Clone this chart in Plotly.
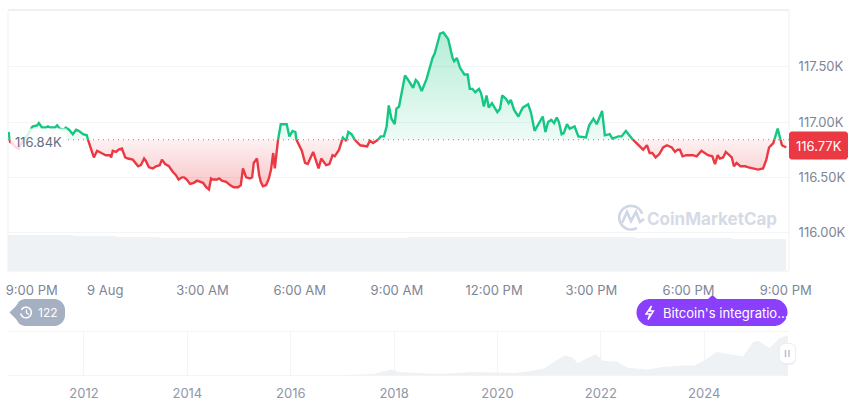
import numpy as np
import plotly.graph_objects as go

# minutes since 9:00 PM, price in USD
minutes = [1,4,7,15,20,26,35,44,46,54,57,63,70,74,78,87,91,96,104,107,113,120,126,131,139,146,148,152,155,159,165,172,181,189,191,194,200,205,211,217,222,231,237,241,246,252,255,261,268,274,281,285,291,298,305,311,316,322,326,331,337,344,350,355,361,367,372,376,379,387,391,396,404,411,418,426,429,431,435,441,448,452,455,461,465,468,472,478,483,487,491,494,500,505,511,516,521,527,532,534,544,550,555,565,575,580,589,595,601,605,613,620,626,630,636,642,652,665,670,676,685,690,696,701,705,710,716,719,724,735,741,750,755,759,766,775,786,790,800,806,815,823,826,831,837,845,851,855,860,865,872,876,881,886,890,896,906,911,915,922,927,931,937,945,953,963,968,975,990,995,1000,1006,1011,1016,1020,1025,1029,1035,1040,1049,1056,1070,1076,1084,1090,1100,1105,1114,1119,1130,1136,1144,1157,1167,1176,1183,1188,1193,1199,1206,1213,1220,1229,1235,1240,1244,1249,1256,1268,1275,1284,1296,1304,1309,1314,1318,1324,1329,1340,1344,1349,1356,1365,1371,1380,1389,1398,1404,1409,1417,1425,1433,1441]
prices = [116910,116820,116810,116770,116760,116820,116870,116950,116960,116970,116990,116950,116950,116960,116950,116950,116970,116940,116930,116950,116930,116890,116930,116920,116890,116880,116840,116780,116730,116680,116740,116720,116700,116700,116680,116740,116730,116750,116760,116680,116670,116660,116620,116600,116610,116670,116650,116590,116580,116600,116610,116660,116620,116600,116550,116520,116480,116500,116500,116480,116440,116450,116470,116460,116450,116410,116390,116490,116480,116480,116490,116470,116460,116430,116410,116410,116420,116430,116580,116500,116490,116500,116630,116670,116520,116460,116420,116430,116490,116570,116720,116580,116840,116980,116980,116980,116870,116920,116910,116840,116740,116630,116620,116730,116580,116670,116610,116620,116700,116690,116750,116860,116830,116910,116890,116840,116790,116780,116830,116810,116840,116870,116870,116960,117150,117030,116980,117120,117140,117420,117380,117310,117380,117360,117280,117390,117580,117620,117800,117810,117750,117580,117550,117580,117490,117430,117430,117300,117300,117270,117300,117260,117140,117240,117130,117170,117090,117120,117240,117210,117170,117200,117110,117050,117130,117160,117090,116920,117050,116910,117000,117020,116990,117040,117000,116890,116900,116980,116940,116960,116870,116860,116970,117030,116980,117100,116880,116890,116850,116870,116870,116920,116840,116790,116750,116790,116720,116720,116680,116710,116770,116790,116770,116730,116750,116750,116690,116700,116700,116690,116740,116700,116690,116620,116700,116670,116680,116730,116680,116600,116630,116600,116600,116590,116580,116570,116580,116660,116770,116810,116940,116790,116770]
open_price = 116840

# volume, one bar per 20 minutes
vol_minutes = list(range(10, 1450, 20))
volumes = [36,36,36,36,36,36,35.5,35.5,35,35,34.5,34.5,34,34,33.5,33,33,33,33,33,33.5,33.5,33,33,33,33,33,33,33.5,33,33,33,33.5,33.5,33,33.5,33.5,34,34,34,34,34,34.5,34.5,34.5,34.5,34,34.5,34.5,34.5,34,34,34,34,34.5,34,34,34,33.5,33.5,33.5,33.5,33,33,33,33,33,32.5,32.5,32.5,32,32]

# history navigator, price in thousands
hist_years = [2010.6,2013.9,2016.0,2017.0,2017.6,2017.95,2018.1,2018.5,2018.9,2019.5,2020.0,2020.3,2020.6,2020.9,2021.1,2021.3,2021.45,2021.55,2021.8,2021.9,2022.05,2022.3,2022.45,2022.55,2022.9,2023.2,2023.6,2023.8,2024.0,2024.24,2024.45,2024.75,2024.95,2025.05,2025.27,2025.45,2025.62]
hist_prices = [0,1,0.5,1,4,17,10,7,4,10,8,7,11,20,40,58,52,35,55,62,42,40,28,21,17,24,29,28,43,68,62,56,98,100,80,108,117]

time_ticks = [44,180,360,540,720,900,1080,1260,1440]
time_labels = ["9:00 PM","9 Aug","3:00 AM","6:00 AM","9:00 AM","12:00 PM","3:00 PM","6:00 PM","9:00 PM"]
price_ticks = [116000,116500,117000,117500]
price_labels = ["116.00K","116.50K","117.00K","117.50K"]
year_ticks = [2012,2014,2016,2018,2020,2022,2024]

GREEN = "#16c784"
RED = "#ea3943"
GRID = "#f3f4f6"
W, H = 860, 401


def fx(px):
    return px / W


def fy(py):
    return 1 - py / H


def path(points, close=False):
    s = "M " + " L ".join(f"{fx(a):.5f},{fy(b):.5f}" for a, b in points)
    return s + (" Z" if close else "")


def rounded(x0, y0, x1, y1, r):
    # rounded box as a polygon, in pixels
    pts = []
    corners = [(x1 - r, y0 + r, -90), (x1 - r, y1 - r, 0), (x0 + r, y1 - r, 90), (x0 + r, y0 + r, 180)]
    for cx, cy, start in corners:
        for a in np.radians(np.linspace(start, start + 90, 7)):
            pts.append((cx + r * np.cos(a), cy + r * np.sin(a)))
    return pts


def arc(cx, cy, r, a0, a1):
    return [(cx + r * np.cos(a), cy + r * np.sin(a)) for a in np.radians(np.linspace(a0, a1, 40))]


def label(px, py, text, size, color, xanchor="center"):
    return dict(xref="paper", yref="paper", x=fx(px), y=fy(py), text=text, showarrow=False,
                xanchor=xanchor, yanchor="middle", font=dict(size=size, color=color))


# split at the opening price so each side gets its own colour
xs, ys = [minutes[0]], [prices[0]]
for i in range(1, len(minutes)):
    p0, p1 = prices[i - 1], prices[i]
    if (p0 - open_price) * (p1 - open_price) < 0:
        t = (open_price - p0) / (p1 - p0)
        xs.append(minutes[i - 1] + t * (minutes[i] - minutes[i - 1]))
        ys.append(open_price)
    xs.append(minutes[i])
    ys.append(p1)
xs = np.array(xs)
ys = np.array(ys, dtype=float)
up = np.maximum(ys, open_price)
down = np.minimum(ys, open_price)
line_up = np.where(ys >= open_price, ys, np.nan)
line_down = np.where(ys <= open_price, ys, np.nan)

fig = go.Figure()

fig.add_trace(go.Bar(x=vol_minutes, y=volumes, width=20, marker=dict(color="#eff2f5", line_width=0),
                     xaxis="x", yaxis="y3"))

fig.add_trace(go.Scatter(x=xs, y=[open_price] * len(xs), mode="lines", line=dict(width=0), xaxis="x", yaxis="y"))
fig.add_trace(go.Scatter(x=xs, y=up, mode="lines", line=dict(width=0), fill="tonexty",
                         fillgradient=dict(type="vertical", start=open_price, stop=117810,
                                           colorscale=[[0, "rgba(22,199,132,0.07)"], [1, "rgba(22,199,132,0.32)"]]),
                         xaxis="x", yaxis="y"))
fig.add_trace(go.Scatter(x=xs, y=[open_price] * len(xs), mode="lines", line=dict(width=0), xaxis="x", yaxis="y"))
fig.add_trace(go.Scatter(x=xs, y=down, mode="lines", line=dict(width=0), fill="tonexty",
                         fillgradient=dict(type="vertical", start=116390, stop=open_price,
                                           colorscale=[[0, "rgba(234,57,67,0.30)"], [1, "rgba(234,57,67,0.07)"]]),
                         xaxis="x", yaxis="y"))
fig.add_trace(go.Scatter(x=[0, 1446], y=[open_price, open_price], mode="lines",
                         line=dict(color="#7f8698", width=1, dash="1px 4px"), xaxis="x", yaxis="y"))
fig.add_trace(go.Scatter(x=xs, y=line_up, mode="lines", line=dict(color=GREEN, width=2.4), xaxis="x", yaxis="y"))
fig.add_trace(go.Scatter(x=xs, y=line_down, mode="lines", line=dict(color=RED, width=2.4), xaxis="x", yaxis="y"))

fig.add_trace(go.Scatter(x=hist_years, y=hist_prices, mode="lines", line=dict(width=0), fill="tozeroy",
                         fillcolor="#eff2f5", xaxis="x2", yaxis="y2"))

shapes = [
    dict(type="rect", xref="paper", yref="paper", x0=fx(8), x1=fx(789), y0=fy(271), y1=fy(10),
         line=dict(color="#eef0f3", width=1), layer="below"),
    dict(type="line", xref="paper", yref="paper", x0=fx(8), x1=fx(789), y0=fy(10), y1=fy(10),
         line=dict(color="#e6e8ec", width=1), layer="below"),
    # last price tag
    dict(type="path", xref="paper", yref="paper", path=path(rounded(789, 131.5, 848, 159.5, 3), True),
         fillcolor=RED, line_width=0),
    # history pill
    dict(type="path", xref="paper", yref="paper",
         path=path([(9.5, 312.5), (16, 306)] + arc(26, 310, 11, -130, -90) + arc(54, 310, 11, -90, 0) +
                   arc(54, 315, 11, 0, 90) + arc(26, 315, 11, 90, 130) + [(16, 319)], True),
         fillcolor="#a6b0c3", line_width=0),
    dict(type="path", xref="paper", yref="paper", path=path(arc(26, 312.5, 5.3, -150, 170)),
         line=dict(color="white", width=1.5)),
    dict(type="path", xref="paper", yref="paper", path=path([(26.5, 309.5), (26.5, 313), (29, 314.5)]),
         line=dict(color="white", width=1.3)),
    # news pill
    dict(type="path", xref="paper", yref="paper",
         path=path([(708, 299), (712.5, 295), (717, 299)] + arc(774, 312.5, 13.5, -90, 90) +
                   arc(650, 312.5, 13.5, 90, 270), True),
         fillcolor="#8a3ffc", line_width=0),
    dict(type="path", xref="paper", yref="paper",
         path=path([(651.5, 306), (646, 314), (650, 314), (648, 319.5), (653.5, 311), (649.5, 311)], True),
         line=dict(color="white", width=1.4)),
    # navigator handle
    dict(type="path", xref="paper", yref="paper", path=path(rounded(779, 343, 796, 365, 6), True),
         fillcolor="#eceef2", line_width=0),
    dict(type="path", xref="paper", yref="paper", path=path(rounded(780, 344, 795, 363, 5), True),
         fillcolor="white", line_width=0),
    dict(type="line", xref="paper", yref="paper", x0=fx(785.5), x1=fx(785.5), y0=fy(350), y1=fy(357),
         line=dict(color="#b8bfcc", width=1.5)),
    dict(type="line", xref="paper", yref="paper", x0=fx(789), x1=fx(789), y0=fy(350), y1=fy(357),
         line=dict(color="#b8bfcc", width=1.5)),
    # watermark logo
    dict(type="path", xref="paper", yref="paper", path=path(arc(631, 217.7, 11.8, 60, 340)),
         line=dict(color="#cfd6e4", width=2.6)),
    dict(type="path", xref="paper", yref="paper",
         path=path([(622, 223), (627, 212), (631, 221), (636, 212), (640, 222), (644, 219)]),
         line=dict(color="#cfd6e4", width=2.6)),
]

open_label = label(38.5, 141, "116.84K", 13, "#616e85")
open_label.update(width=53, height=23, bgcolor="rgba(255,255,255,0.82)")
annotations = [
    open_label,
    label(818.5, 146, "116.77K", 13, "white"),
    label(712, 219, "<b>CoinMarketCap</b>", 17, "#d5dbe6"),
    label(47.5, 312.5, "122", 12, "white"),
    label(661, 312.5, "Bitcoin's integratio...", 13, "white", "left"),
]

fig.update_layout(
    width=W, height=H, margin=dict(l=0, r=0, t=0, b=0), autosize=False,
    paper_bgcolor="white", plot_bgcolor="rgba(0,0,0,0)", showlegend=False, bargap=0,
    font=dict(family="Inter, sans-serif", size=13, color="#7d8598"),
    shapes=shapes, annotations=annotations,
    xaxis=dict(domain=[fx(8), fx(789)], range=[0, 1446], tickmode="array", tickvals=time_ticks,
               ticktext=time_labels, showgrid=False, zeroline=False, showline=False, anchor="y", automargin=False,
               ticks="outside", ticklen=7, tickcolor="rgba(0,0,0,0)", tickfont=dict(size=13, color="#7d8598")),
    yaxis=dict(domain=[fy(271), fy(10)], range=[115653, 118013], side="right", anchor="x", tickmode="array",
               tickvals=price_ticks, ticktext=price_labels, gridcolor=GRID, gridwidth=1, zeroline=False,
               showline=False, ticks="outside", ticklen=6, tickcolor="rgba(0,0,0,0)", automargin=False,
               tickfont=dict(size=13, color="#7d8598")),
    yaxis3=dict(domain=[fy(271), fy(10)], range=[0, 261], overlaying="y", side="left", anchor="x", visible=False),
    xaxis2=dict(domain=[fx(8), fx(789)], range=[2010.53, 2025.64], tickmode="array", tickvals=year_ticks,
                ticktext=[str(y) for y in year_ticks], gridcolor=GRID, gridwidth=1, zeroline=False, showline=True,
                linecolor=GRID, mirror=True, anchor="y2", ticks="outside", ticklen=6, tickcolor="rgba(0,0,0,0)",
                automargin=False, tickfont=dict(size=13, color="#8f97a8")),
    yaxis2=dict(domain=[fy(375.3), fy(331.5)], range=[0, 128], anchor="x2", visible=False),
)

fig.write_html("out.html", post_script="document.body.style.margin='0';", config={"displayModeBar": False})
